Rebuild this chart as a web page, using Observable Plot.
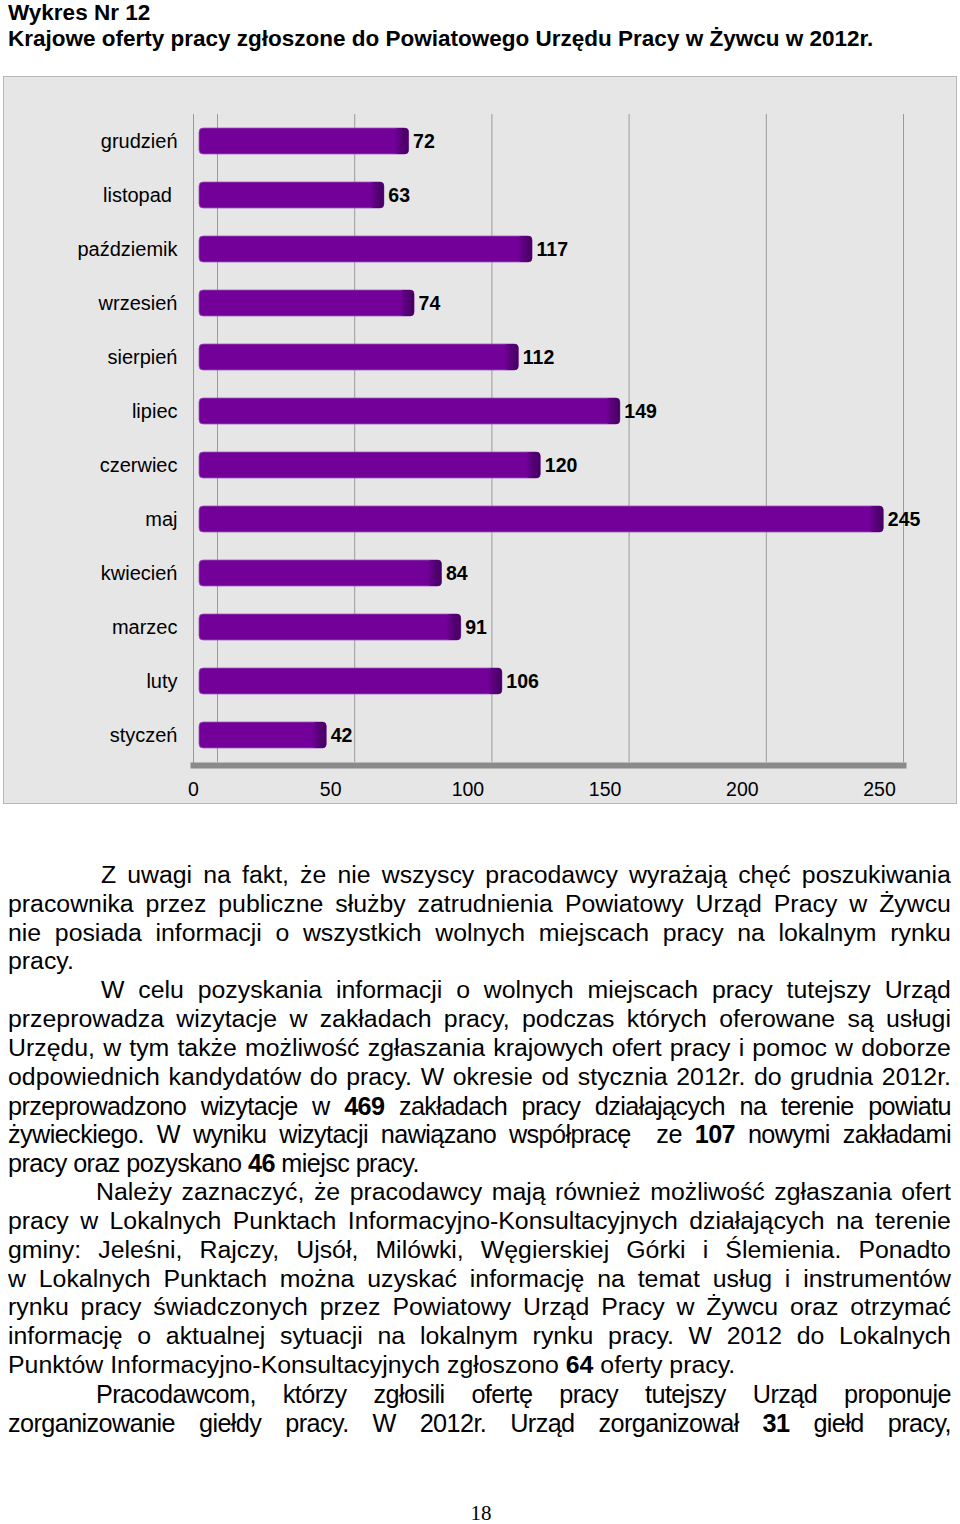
<!DOCTYPE html>
<html>
<head>
<meta charset="utf-8">
<script src="https://cdn.jsdelivr.net/npm/d3@7"></script>
<script src="https://cdn.jsdelivr.net/npm/@observablehq/plot@0.6"></script>
<style>
  html, body { margin: 0; padding: 0; background: #ffffff; }
  body { position: relative; width: 960px; height: 1524px; overflow: hidden; font-family: "Liberation Sans", Arial, sans-serif; color: #000; }
  .title { position: absolute; left: 8px; top: 0px; font-weight: bold; font-size: 22.5px; line-height: 26px; white-space: nowrap; }
  .box { position: absolute; left: 3px; top: 76px; width: 952px; height: 726px; border: 1px solid #b8b8b8; background: #e6e6e6; }
  #chart { position: absolute; left: 4px; top: 77px; }
  .text { position: absolute; left: 8px; top: 861px; width: 943px; }
  .ln { box-sizing: border-box; height: 28.84px; line-height: 28.84px; white-space: nowrap; transform-origin: 0 0; text-align: justify; text-align-last: justify; }
  .reg { font-size: 23px; width: 873.1px; transform: scaleX(1.08); }
  .nar { font-size: 25.5px; width: 953px; transform: scaleX(0.9895); letter-spacing: -0.6px; }
  .last { text-align-last: left; }
  .pn { position: absolute; left: 0; width: 962px; top: 1500px; text-align: center; font-family: "Liberation Serif", "DejaVu Serif", serif; font-size: 21px; line-height: 26px; }
</style>
</head>
<body>
<div class="title">Wykres Nr 12<br>Krajowe oferty pracy zgłoszone do Powiatowego Urzędu Pracy w Żywcu w 2012r.</div>
<div class="box"></div>
<div id="chart"></div>
<div class="text">
  <div class="ln reg" style="padding-left:86px">Z uwagi na fakt, że nie wszyscy pracodawcy wyrażają chęć poszukiwania</div>
  <div class="ln reg">pracownika przez publiczne służby zatrudnienia Powiatowy Urząd Pracy w Żywcu</div>
  <div class="ln reg">nie posiada informacji o wszystkich wolnych miejscach pracy na lokalnym rynku</div>
  <div class="ln reg last">pracy.</div>
  <div class="ln reg" style="padding-left:86px">W celu pozyskania informacji o wolnych miejscach pracy tutejszy Urząd</div>
  <div class="ln reg">przeprowadza wizytacje w zakładach pracy, podczas których oferowane są usługi</div>
  <div class="ln reg">Urzędu, w tym także możliwość zgłaszania krajowych ofert pracy i pomoc w doborze</div>
  <div class="ln reg">odpowiednich kandydatów do pracy. W okresie od stycznia 2012r. do grudnia 2012r.</div>
  <div class="ln nar">przeprowadzono wizytacje w <b>469</b> zakładach pracy działających na terenie powiatu</div>
  <div class="ln nar">żywieckiego. W wyniku wizytacji nawiązano współpracę&nbsp; ze <b>107</b> nowymi zakładami</div>
  <div class="ln nar last">pracy oraz pozyskano <b>46</b> miejsc pracy.</div>
  <div class="ln reg" style="padding-left:81.5px">Należy zaznaczyć, że pracodawcy mają również możliwość zgłaszania ofert</div>
  <div class="ln reg">pracy w Lokalnych Punktach Informacyjno-Konsultacyjnych działających na terenie</div>
  <div class="ln reg">gminy: Jeleśni, Rajczy, Ujsół, Milówki, Węgierskiej Górki i Ślemienia. Ponadto</div>
  <div class="ln reg">w Lokalnych Punktach można uzyskać informację na temat usług i instrumentów</div>
  <div class="ln reg">rynku pracy świadczonych przez Powiatowy Urząd Pracy w Żywcu oraz otrzymać</div>
  <div class="ln reg">informację o aktualnej sytuacji na lokalnym rynku pracy. W 2012 do Lokalnych</div>
  <div class="ln reg last">Punktów Informacyjno-Konsultacyjnych zgłoszono <b>64</b> oferty pracy.</div>
  <div class="ln nar" style="padding-left:89px">Pracodawcom, którzy zgłosili ofertę pracy tutejszy Urząd proponuje</div>
  <div class="ln nar">zorganizowanie giełdy pracy. W 2012r. Urząd zorganizował <b>31</b> giełd pracy,</div>
</div>
<div class="pn">18</div>
<script>
// Data
const months = ["grudzień", "listopad\u00a0", "paździemik", "wrzesień", "sierpień", "lipiec", "czerwiec", "maj", "kwiecień", "marzec", "luty", "styczeń"];
const offers = [72, 63, 117, 74, 112, 149, 120, 245, 84, 91, 106, 42];
const xTicks = [0, 50, 100, 150, 200, 250];

const data = months.map((m, i) => ({month: m, value: offers[i]}));

const CAP = "#4b0069";
const chart = Plot.plot({
  width: 952,
  height: 726,
  marginLeft: 189,
  marginRight: 53,
  marginTop: 37,
  marginBottom: 41,
  style: {background: "transparent", fontFamily: "'Liberation Sans', Arial, sans-serif", color: "#000", overflow: "visible"},
  x: {domain: [0, 250], range: [189, 875]},
  y: {domain: months, paddingInner: 0.52, paddingOuter: 0.26},
  marks: [
    Plot.ruleX(xTicks, {dx: 24, stroke: "#9a9a9a", strokeWidth: 1}),
    Plot.frame({anchor: "left", stroke: "#9a9a9a", strokeWidth: 1}),
    Plot.frame({anchor: "bottom", stroke: "#8a8a8a", strokeWidth: 6, dy: 3}),
    Plot.barX(data, {y: "month", x1: 0, x2: "value", dx: 18, insetLeft: -12, rx: 4, fill: "#720099", stroke: "#9a55b8", strokeWidth: 0.8}),
    Plot.barX(data, {y: "month", x1: "value", x2: "value", dx: 18, insetLeft: -14, rx: 4, fill: CAP}),
    Plot.text(data, {y: "month", x: "value", text: d => String(d.value), dx: 22, textAnchor: "start", fontWeight: "bold", fontSize: 19.5, fill: "#000"}),
    Plot.axisY({tickSize: 0, tickPadding: 16, fontSize: 20, label: null, fill: "#000"}),
    Plot.axisX(xTicks, {tickSize: 0, tickPadding: 20, fontSize: 19.5, label: null, fill: "#000"})
  ]
});

// gradient for the darker bar ends
const ns = "http://www.w3.org/2000/svg";
const defs = document.createElementNS(ns, "defs");
defs.innerHTML = '<linearGradient id="capGrad" x1="0" y1="0" x2="1" y2="0">' +
  '<stop offset="0" stop-color="#720099"/>' +
  '<stop offset="0.45" stop-color="#580079"/>' +
  '<stop offset="1" stop-color="#450060"/></linearGradient>';
chart.insertBefore(defs, chart.firstChild);
chart.querySelectorAll('[fill="' + CAP + '"]').forEach(el => el.setAttribute("fill", "url(#capGrad)"));

document.getElementById("chart").appendChild(chart);
</script>
</body>
</html>
